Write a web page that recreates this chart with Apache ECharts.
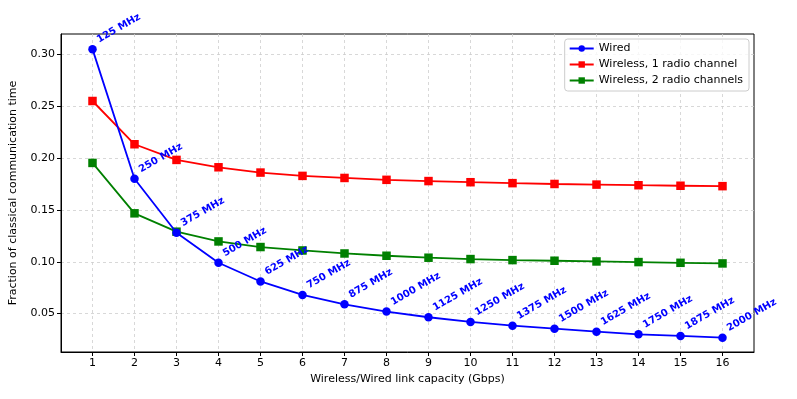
<!DOCTYPE html>
<html>
<head>
<meta charset="utf-8">
<script src="https://cdn.jsdelivr.net/npm/echarts@6/dist/echarts.min.js"></script>
<style>
  html, body { margin: 0; padding: 0; background: #fff; }
  #chart { width: 797px; height: 399px; }
</style>
</head>
<body>
<div id="chart"></div>
<script>
// link capacity (Gbps)
const capacity = [1, 2, 3, 4, 5, 6, 7, 8, 9, 10, 11, 12, 13, 14, 15, 16];
// annotation on wired points
const freqLabels = ['125 MHz', '250 MHz', '375 MHz', '500 MHz', '625 MHz', '750 MHz', '875 MHz', '1000 MHz',
  '1125 MHz', '1250 MHz', '1375 MHz', '1500 MHz', '1625 MHz', '1750 MHz', '1875 MHz', '2000 MHz'];
const wired = [0.305, 0.180, 0.128, 0.099, 0.081, 0.068, 0.059, 0.052, 0.0465, 0.042, 0.0384, 0.0355, 0.0326, 0.030, 0.0285, 0.0268];
const wireless1 = [0.255, 0.2133, 0.1982, 0.1911, 0.186, 0.1828, 0.1808, 0.179, 0.1778, 0.1767, 0.1758, 0.175, 0.1744, 0.1738, 0.1733, 0.1729];
const wireless2 = [0.1953, 0.1467, 0.129, 0.1196, 0.1142, 0.1109, 0.108, 0.1058, 0.1039, 0.1026, 0.1016, 0.101, 0.1003, 0.0997, 0.099, 0.0984];
const yTicks = [0.05, 0.10, 0.15, 0.20, 0.25, 0.30];

const FONT = 'DejaVu Sans';
const pairs = arr => capacity.map((c, i) => [c, arr[i]]);

const chart = echarts.init(document.getElementById('chart'));
chart.setOption({
  animation: false,
  textStyle: { fontFamily: FONT },
  grid: {
    left: 60, top: 34, right: 43, bottom: 47,
    show: true, borderColor: '#000', borderWidth: 1, backgroundColor: 'transparent'
  },
  legend: {
    right: 48, top: 39,
    orient: 'vertical',
    itemWidth: 24, itemHeight: 8, itemGap: 5,
    padding: [4, 6, 5, 4],
    borderColor: '#ccc', borderWidth: 1, borderRadius: 3,
    backgroundColor: 'rgba(255,255,255,0.8)',
    textStyle: { fontFamily: FONT, fontSize: 11, color: '#000' },
    data: ['Wired', 'Wireless, 1 radio channel', 'Wireless, 2 radio channels']
  },
  xAxis: {
    type: 'value',
    min: 0.25, max: 16.75,
    name: 'Wireless/Wired link capacity (Gbps)',
    nameLocation: 'middle', nameGap: 22,
    nameTextStyle: { fontFamily: FONT, fontSize: 11, color: '#000' },
    axisLine: { show: true, lineStyle: { color: '#000' } },
    axisTick: { show: true, length: 4, customValues: capacity, lineStyle: { color: '#000' } },
    axisLabel: { customValues: capacity, fontFamily: FONT, fontSize: 11, color: '#000', margin: 6 },
    splitLine: { show: true, lineStyle: { color: '#cfcfcf', type: [3, 3], width: 0.8 } }
  },
  yAxis: {
    type: 'value',
    min: 0.013, max: 0.3196,
    name: 'Fraction of classical communication time',
    nameLocation: 'middle', nameGap: 42,
    nameTextStyle: { fontFamily: FONT, fontSize: 11, color: '#000' },
    axisLine: { show: true, lineStyle: { color: '#000' } },
    axisTick: { show: true, length: 4, customValues: yTicks, lineStyle: { color: '#000' } },
    axisLabel: {
      customValues: yTicks, fontFamily: FONT, fontSize: 11, color: '#000', margin: 6,
      formatter: v => v.toFixed(2)
    },
    splitLine: { show: true, lineStyle: { color: '#cfcfcf', type: [3, 3], width: 0.8 } }
  },
  series: [
    {
      name: 'Wired', type: 'line', data: pairs(wired),
      symbol: 'circle', symbolSize: 8.5,
      itemStyle: { color: '#0000ff' },
      lineStyle: { color: '#0000ff', width: 1.8 },
      label: {
        show: true, position: 'right', distance: 6, rotate: 30,
        offset: [0, -5], align: 'left', verticalAlign: 'bottom',
        fontFamily: FONT, fontSize: 10, fontWeight: 'bold', color: '#0000ff',
        formatter: p => freqLabels[p.dataIndex]
      },
      z: 3
    },
    {
      name: 'Wireless, 1 radio channel', type: 'line', data: pairs(wireless1),
      symbol: 'rect', symbolSize: 8.5,
      itemStyle: { color: '#ff0000' },
      lineStyle: { color: '#ff0000', width: 1.8 },
      z: 2
    },
    {
      name: 'Wireless, 2 radio channels', type: 'line', data: pairs(wireless2),
      symbol: 'rect', symbolSize: 8.5,
      itemStyle: { color: '#008000' },
      lineStyle: { color: '#008000', width: 1.8 },
      z: 2
    }
  ]
});
</script>
</body>
</html>
